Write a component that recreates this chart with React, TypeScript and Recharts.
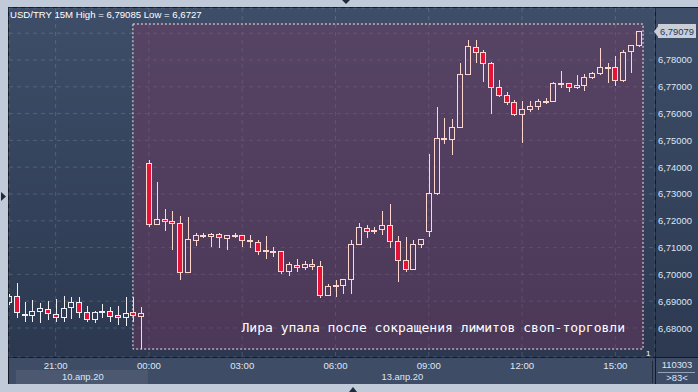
import React from "react";
import {
  ComposedChart,
  Bar,
  XAxis,
  YAxis,
  CartesianGrid,
  ReferenceArea,
  ReferenceLine,
} from "recharts";

// 15-minute slots: 0 = 13.04 00:00, negative = 10.04 (Friday) evening
const firstSlot = -18;

const opens = [
  6.6897, 6.6919, 6.6852, 6.6849, 6.6863, 6.6871, 6.6852, 6.6841, 6.6878, 6.6897,
  6.686, 6.6834, 6.6863, 6.6863, 6.6849, 6.6841, 6.686, 6.6845,
  6.7416, 6.7188, 6.7207, 6.7199, 6.7192, 6.7009, 6.7128, 6.7143, 6.7143, 6.7151,
  6.7136, 6.7147, 6.7147, 6.7128, 6.7121, 6.7091, 6.7087, 6.7087, 6.7013, 6.7035,
  6.7028, 6.7039, 6.7031, 6.6923, 6.696, 6.696, 6.6983, 6.7113, 6.7173, 6.7166,
  6.7169, 6.7184, 6.7125, 6.7054, 6.702, 6.7113, 6.7162, 6.7304, 6.7505, 6.7505,
  6.755, 6.7748, 6.7848, 6.783, 6.7789, 6.7699, 6.7669, 6.7643, 6.7598, 6.7617,
  6.7628, 6.7647, 6.7647, 6.7714, 6.7714, 6.7699, 6.7707, 6.7737, 6.7751, 6.7774,
  6.7774, 6.7725, 6.7834, 6.7856,
];

const highs = [
  6.6927, 6.6968, 6.6897, 6.6904, 6.6893, 6.6901, 6.6908, 6.6919, 6.6916, 6.6916,
  6.6882, 6.6863, 6.689, 6.6878, 6.6882, 6.6916, 6.6916, 6.6878,
  6.7427, 6.7345, 6.7244, 6.7237, 6.7218, 6.7214, 6.7154, 6.7154, 6.7154, 6.7154,
  6.7147, 6.7154, 6.7147, 6.7147, 6.7128, 6.7143, 6.7102, 6.7087, 6.7046, 6.7057,
  6.705, 6.7057, 6.705, 6.6964, 6.6979, 6.6983, 6.7128, 6.7192, 6.7184, 6.7177,
  6.7237, 6.7263, 6.7143, 6.714, 6.7128, 6.7132, 6.7449, 6.7625, 6.7584, 6.758,
  6.7789, 6.7875, 6.7875, 6.7837, 6.7792, 6.7725, 6.7681, 6.7651, 6.7647, 6.7647,
  6.7654, 6.7658, 6.7718, 6.7759, 6.7714, 6.7744, 6.7748, 6.7755, 6.7845, 6.7789,
  6.7815, 6.7837, 6.7856, 6.79085,
];

const lows = [
  6.689, 6.6841, 6.6826, 6.6826, 6.6822, 6.6834, 6.6826, 6.6826, 6.6837, 6.6841,
  6.6826, 6.6822, 6.6841, 6.6826, 6.6815, 6.6811, 6.6826, 6.6727,
  6.7181, 6.7188, 6.7166, 6.7095, 6.6983, 6.7009, 6.711, 6.714, 6.7106, 6.7102,
  6.7095, 6.714, 6.7106, 6.7102, 6.7076, 6.7061, 6.7069, 6.7005, 6.6998, 6.7013,
  6.702, 6.702, 6.6916, 6.6923, 6.6919, 6.6931, 6.6931, 6.7113, 6.714, 6.7154,
  6.7151, 6.7102, 6.6975, 6.7013, 6.702, 6.7102, 6.7143, 6.73, 6.749, 6.7449,
  6.755, 6.7748, 6.7792, 6.7722, 6.7602, 6.7666, 6.7636, 6.7595, 6.7494, 6.761,
  6.7617, 6.764, 6.7647, 6.7699, 6.7684, 6.7696, 6.7688, 6.7733, 6.7748, 6.7718,
  6.7707, 6.7722, 6.7755, 6.7852,
];

const closes = [
  6.6919, 6.686, 6.6853, 6.6863, 6.6875, 6.6856, 6.6841, 6.6875, 6.6897, 6.686,
  6.6834, 6.686, 6.6864, 6.6845, 6.6841, 6.6856, 6.6849, 6.6856,
  6.7188, 6.7207, 6.7199, 6.7192, 6.7009, 6.7132, 6.7147, 6.7147, 6.7151, 6.714,
  6.7147, 6.7146, 6.7128, 6.7127, 6.7087, 6.709, 6.7088, 6.7013, 6.7039, 6.7028,
  6.7039, 6.7031, 6.6923, 6.6957, 6.6961, 6.6983, 6.7113, 6.7177, 6.7162, 6.7165,
  6.7184, 6.7125, 6.7054, 6.702, 6.7113, 6.7132, 6.7304, 6.7509, 6.7509, 6.755,
  6.7748, 6.7852, 6.783, 6.7789, 6.7699, 6.7669, 6.7643, 6.7598, 6.7617, 6.7628,
  6.7647, 6.7648, 6.7714, 6.7715, 6.7699, 6.7707, 6.7737, 6.7751, 6.7774, 6.7775,
  6.7725, 6.783, 6.7856, 6.79079,
];

const lastPrice = 6.79079;

const timeTicks = [-12, 0, 12, 24, 36, 48, 60];
const timeLabels = ["21:00", "00:00", "03:00", "06:00", "09:00", "12:00", "15:00"];

const dateTicks = [-8.5, 32.6];
const dateLabels = ["10.апр.20", "13.апр.20"];

const priceTicks = [6.68, 6.69, 6.7, 6.71, 6.72, 6.73, 6.74, 6.75, 6.76, 6.77, 6.78, 6.79];

const xDomain = [-18, 65.1];
const yDomain = [6.66918, 6.7994];

// annotation box (slots / prices)
const noteX = [-2.06, 63.56];
const noteY = [6.67216, 6.79343];
const noteText = "Лира упала после сокращения лимитов своп-торговли";
const headerText = "USD/TRY 15M High = 6,79085 Low = 6,6727";

const FONT = '"Liberation Sans", Arial, sans-serif';
const LABEL = "#dde7f6";

const data = opens.map((o, k) => ({
  s: firstSlot + k,
  o,
  h: highs[k],
  l: lows[k],
  c: closes[k],
  range: [lows[k], highs[k]],
}));

const CandleShape = (props: any) => {
  const { x, y, width, height, payload } = props;
  if (x == null || y == null || !payload) return null;
  let top = y;
  let hgt = height;
  if (hgt < 0) {
    top = y + hgt;
    hgt = -hgt;
  }
  const { o, h, l, c, s } = payload;
  const span = h - l || 1e-9;
  const py = (v: number) => top + ((h - v) / span) * hgt;
  const cx = Math.round(x + width / 2);
  const up = c >= o;
  const edge = s >= noteX[0] ? "#ffd6cd" : "#eef0f6";
  const yHi = Math.round(py(h));
  const yLo = Math.round(py(l));
  const bTop = Math.round(py(Math.max(o, c)));
  const bBot = Math.round(py(Math.min(o, c)));
  const bh = Math.max(bBot - bTop, 1);
  return (
    <g>
      {bTop > yHi && (
        <line x1={cx + 0.5} x2={cx + 0.5} y1={yHi} y2={bTop + 0.5} stroke={edge} strokeWidth={1} />
      )}
      {yLo > bTop + bh && (
        <line x1={cx + 0.5} x2={cx + 0.5} y1={bTop + bh + 0.5} y2={yLo + 1} stroke={edge} strokeWidth={1} />
      )}
      <rect
        x={cx - 2.5}
        y={bTop + 0.5}
        width={5}
        height={bh}
        fill={up ? "none" : "#e5133a"}
        stroke={edge}
        strokeWidth={1}
      />
    </g>
  );
};

const PriceTick = (p: any) => {
  const v = Number(p.payload?.value);
  if (Math.abs(v - 6.79) < 1e-6) return <g />;
  return (
    <text x={p.x} y={p.y + 3.5} fill={LABEL} fontSize={9.4} fontFamily={FONT} textAnchor="start">
      {v.toFixed(5).replace(".", ",")}
    </text>
  );
};

const TimeTick = (p: any) => {
  const v = Number(p.payload?.value);
  const k = timeTicks.indexOf(v);
  return (
    <text x={p.x} y={p.y + 12} fill={LABEL} fontSize={9.6} fontFamily={FONT} textAnchor="middle">
      {k >= 0 ? timeLabels[k] : ""}
    </text>
  );
};

const DateTick = (p: any) => {
  const v = Number(p.payload?.value);
  const k = dateTicks.indexOf(v);
  return (
    <g>
      {k === 0 && <rect x={p.x - 67} y={p.y} width={132} height={14} fill="#4b5870" />}
      <text x={p.x} y={p.y + 10} fill={LABEL} fontSize={9.4} fontFamily={FONT} textAnchor="middle">
        {k >= 0 ? dateLabels[k] : ""}
      </text>
    </g>
  );
};

const LastPriceLabel = (props: any) => {
  const vb = props.viewBox || {};
  const xr = (vb.x || 0) + (vb.width || 0);
  const yc = Math.round(vb.y || 0);
  return (
    <g>
      <polygon points={`${xr - 1},${yc + 0.5} ${xr + 4},${yc - 6} ${xr + 4},${yc + 7}`} fill="#c9ced7" />
      <rect x={xr + 3} y={yc - 7} width={38} height={14} fill="#c9ced7" />
      <text x={xr + 5} y={yc + 4} fill="#1b3765" fontSize={9.4} fontFamily={FONT}>
        {lastPrice.toFixed(5).replace(".", ",")}
      </text>
    </g>
  );
};

const NoteLabel = (props: any) => {
  const vb = props.viewBox || {};
  return (
    <text
      x={(vb.x || 0) + (vb.width || 0) - 18}
      y={(vb.y || 0) + (vb.height || 0) - 17}
      textAnchor="end"
      fill="#ffffff"
      fontSize={13}
      fontFamily='"DejaVu Sans Mono", monospace'
    >
      {noteText}
    </text>
  );
};

export default function App() {
  const abs = (s: React.CSSProperties): React.CSSProperties => ({ position: "absolute", ...s });
  return (
    <div
      style={{
        position: "absolute",
        left: 0,
        top: 0,
        width: 698,
        height: 392,
        background: "#c0cad9",
        overflow: "hidden",
      }}
    >
      <div style={abs({ left: 8, top: 7, width: 690, height: 377, background: "#141a26" })} />
      <div style={abs({ left: 9, top: 8, width: 646, height: 349, background: "linear-gradient(#3e4e68, #2b3850)" })} />
      <div style={abs({ left: 656, top: 8, width: 42, height: 349, background: "linear-gradient(#3e4e68, #2c3951)" })} />
      <div style={abs({ left: 9, top: 358, width: 646, height: 26, background: "#3f4c65" })} />
      <div style={abs({ left: 656, top: 358, width: 42, height: 26, background: "#3f4c65" })} />

      <div style={abs({ left: 0, top: 0 })}>
        <ComposedChart
          width={698}
          height={392}
          data={data}
          margin={{ top: 8, right: 0, bottom: 8, left: 9 }}
        >
          <CartesianGrid stroke="rgba(255,255,255,0.15)" strokeDasharray="4 4" />
          <XAxis
            dataKey="s"
            type="number"
            domain={xDomain}
            allowDataOverflow
            ticks={timeTicks}
            interval={0}
            height={13}
            tickSize={0}
            tickMargin={0}
            axisLine={false}
            tickLine={false}
            tick={<TimeTick />}
          />
          <XAxis
            xAxisId="date"
            dataKey="s"
            type="number"
            domain={xDomain}
            allowDataOverflow
            ticks={dateTicks}
            interval={0}
            height={14}
            tickSize={0}
            tickMargin={0}
            axisLine={false}
            tickLine={false}
            tick={<DateTick />}
          />
          <YAxis
            orientation="right"
            type="number"
            domain={yDomain}
            allowDataOverflow
            ticks={priceTicks}
            interval={0}
            width={43}
            tickSize={0}
            tickMargin={3}
            axisLine={false}
            tickLine={false}
            tick={<PriceTick />}
          />
          <ReferenceArea
            x1={noteX[0]}
            x2={noteX[1]}
            y1={noteY[0]}
            y2={noteY[1]}
            fill="rgb(125,55,98)"
            fillOpacity={0.4}
            stroke="#ffffff"
            strokeOpacity={0.9}
            strokeDasharray="2 2"
            strokeWidth={1}
            ifOverflow="visible"
            label={<NoteLabel />}
          />
          <Bar dataKey="range" barSize={6} shape={<CandleShape />} isAnimationActive={false} />
          <ReferenceLine y={lastPrice} stroke="none" ifOverflow="visible" label={<LastPriceLabel />} />
        </ComposedChart>
      </div>

      <svg width={698} height={392} style={abs({ left: 0, top: 0, pointerEvents: "none" })}>
        <text x={10} y={18} fill="#ffffff" fontSize={9.6} fontFamily={FONT}>
          {headerText}
        </text>
        <line x1={652.5} x2={652.5} y1={361} y2={383} stroke="#222a3a" />
        <line x1={658} x2={695} y1={372.5} y2={372.5} stroke="#95a1b5" />
        <text x={677} y={368} fill={LABEL} fontSize={9.4} fontFamily={FONT} textAnchor="middle">
          110303
        </text>
        <text x={677} y={381} fill={LABEL} fontSize={9.4} fontFamily={FONT} textAnchor="middle">
          {">83<"}
        </text>
        <text x={646} y={356} fill="#ffffff" fontSize={8} fontFamily={FONT}>
          1
        </text>
        <polygon points="342,0 350,0 346,4" fill="#1e2a3e" />
        <polygon points="349,392 357,392 353,387" fill="#1e2a3e" />
        <polygon points="1,192 1,201 6,196.5" fill="#1e2a3e" />
      </svg>
    </div>
  );
}
